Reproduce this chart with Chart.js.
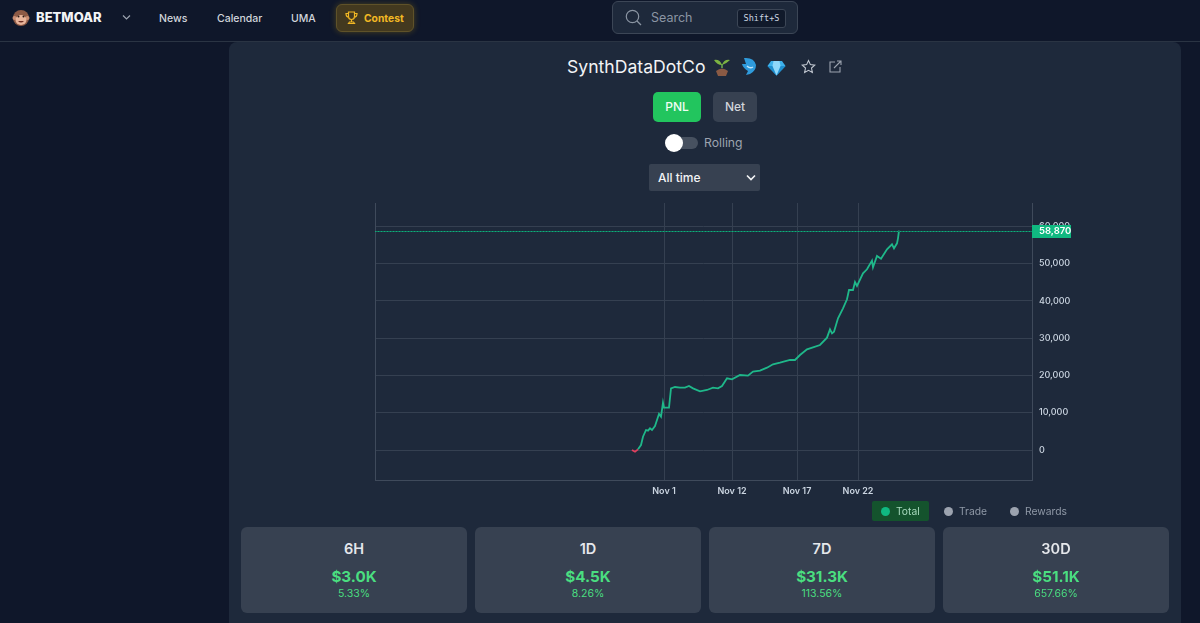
<!DOCTYPE html>
<html>
<head>
<meta charset="utf-8">
<title>BETMOAR</title>
<script src="https://cdn.jsdelivr.net/npm/chart.js@4"></script>
<style>
  * { box-sizing: border-box; }
  html, body { margin: 0; height: 100%; overflow: hidden; }
  body { background: #0f172a; font-family: Inter, "Noto Sans", sans-serif; color: #e5e7eb; width: 1200px; height: 623px; position: relative; }
  .abs { position: absolute; white-space: nowrap; }
  #nav { position: absolute; left: 0; top: 0; width: 1200px; height: 42px; background: #0f172a; border-bottom: 1px solid #2a3443; }
  .navlink { position: absolute; top: 11.5px; font-size: 10.5px; font-weight: 500; color: #d1d5db; line-height: 14px; }
  #brand { position: absolute; left: 36px; top: 9px; font-size: 13px; font-weight: 800; color: #f3f4f6; line-height: 17px; }
  #contest { position: absolute; left: 336px; top: 4px; width: 78px; height: 28px; border-radius: 6px; background: #43391f; border: 1px solid #5f5229; box-shadow: 0 0 6px rgba(234,179,8,.28); color: #f2b824; font-size: 10.3px; font-weight: 700; line-height: 26px; padding-left: 27px; }
  #search { position: absolute; left: 612px; top: 1px; width: 186px; height: 33px; border-radius: 6px; background: #1e293b; border: 1px solid #3c4656; }
  #search span.lbl { position: absolute; left: 38px; top: 8px; font-size: 12.5px; color: #8b95a3; line-height: 16px; }
  #search span.key { position: absolute; left: 124px; top: 7px; width: 49px; height: 19px; border: 1px solid #3c4656; border-radius: 3px; background: #111a2b; font: 8.5px/17px "DejaVu Sans Mono", monospace; color: #cbd5e1; text-align: center; }
  #panel { position: absolute; left: 229px; top: 42px; width: 952px; height: 600px; background: #1e293b; border-radius: 8px; }
  #title { left: 567px; top: 55px; font-size: 17.6px; line-height: 24px; color: #f3f4f6; }
  #pnl { position: absolute; left: 653px; top: 92px; width: 48px; height: 30px; border-radius: 5px; background: #22c55e; color: #f0fdf4; font-size: 12px; font-weight: 500; text-align: center; line-height: 30px; }
  #net { position: absolute; left: 713px; top: 92px; width: 44px; height: 30px; border-radius: 5px; background: #374151; color: #d1d5db; font-size: 12px; font-weight: 500; text-align: center; line-height: 30px; }
  #track { position: absolute; left: 666px; top: 137px; width: 32px; height: 12px; border-radius: 6px; background: #475160; }
  #knob { position: absolute; left: 665px; top: 134px; width: 18px; height: 18px; border-radius: 50%; background: #fff; }
  #rolling { left: 704px; top: 135px; font-size: 12.2px; color: #9ca3af; line-height: 16px; }
  #range { position: absolute; left: 649px; top: 164px; width: 111px; height: 27px; background: #374151; border-radius: 2px; color: #f3f4f6; font-size: 12px; font-weight: 500; line-height: 27px; padding-left: 9px; }
  #chartBox { position: absolute; left: 335px; top: 195px; width: 745px; height: 310px; }
  .legend { position: absolute; top: 501px; height: 20px; font-size: 10.3px; line-height: 20px; color: #8f98a6; }
  .legend i { position: absolute; left: 9px; top: 6px; width: 9px; height: 9px; border-radius: 50%; background: #9ca3af; }
  .legend span { position: absolute; left: 24px; }
  .card { position: absolute; top: 527px; width: 226px; height: 86px; background: #374151; border-radius: 6px; text-align: center; }
  .card .h { position: absolute; left: 0; right: 0; top: 13px; font-size: 14.5px; font-weight: 600; color: #e5e7eb; line-height: 18px; }
  .card .v { position: absolute; left: 0; right: 0; top: 40px; font-size: 15.2px; font-weight: 700; color: #4ade80; line-height: 20px; }
  .card .p { position: absolute; left: 0; right: 0; top: 60px; font-size: 10.5px; color: #4ade80; line-height: 14px; }
</style>
</head>
<body>
<div id="nav"></div>
<svg class="abs" style="left:12px;top:9px" width="18" height="18" viewBox="0 0 18 18"><circle cx="9" cy="9" r="8" fill="#8d5a45"/><circle cx="2.5" cy="9" r="2" fill="#c98d72"/><circle cx="15.5" cy="9" r="2" fill="#c98d72"/><ellipse cx="9" cy="11" rx="5.5" ry="5" fill="#e8b49a"/><circle cx="6.5" cy="7.5" r="1" fill="#2b1a14"/><circle cx="11.5" cy="7.5" r="1" fill="#2b1a14"/><path d="M6 12 Q9 15 12 12 Z" fill="#6b2d22"/></svg>
<div id="brand">BETMOAR</div>
<svg class="abs" style="left:122px;top:14px" width="9" height="7" viewBox="0 0 9 7"><path d="M1 1.5 L4.5 5 L8 1.5" fill="none" stroke="#9ca3af" stroke-width="1.2"/></svg>
<div class="navlink" style="left:159px">News</div>
<div class="navlink" style="left:217px">Calendar</div>
<div class="navlink" style="left:291px">UMA</div>
<div id="contest">Contest</div>
<svg class="abs" style="left:345px;top:11px" width="13" height="14" viewBox="0 0 13 14"><path d="M3.5 1 H9.5 V5.5 A3 3 0 0 1 3.5 5.5 Z M3.5 2.5 H1 Q1 6 4 6.5 M9.5 2.5 H12 Q12 6 9 6.5 M6.5 8.5 V11 M3.5 12.5 H9.5 L8.5 11 H4.5 Z" fill="none" stroke="#f2b824" stroke-width="1.2"/></svg>
<div id="search"><span class="lbl">Search</span><span class="key">Shift+S</span></div>
<svg class="abs" style="left:625px;top:9px" width="17" height="17" viewBox="0 0 17 17"><circle cx="7.5" cy="7.5" r="6.2" fill="none" stroke="#8b95a3" stroke-width="1.2"/><path d="M12 12 L16 16" stroke="#8b95a3" stroke-width="1.2"/></svg>
<div id="panel"></div>

<div id="title" class="abs">SynthDataDotCo</div>
<svg class="abs" style="left:712px;top:57px" width="20" height="20" viewBox="0 0 20 20"><path d="M10 11 V7" stroke="#6aa84f" stroke-width="1.6"/><path d="M10 8 Q5 8 2 3 Q8 2 10 8 Z M10 8 Q14 7 18 3 Q12 2 10 8 Z" fill="#7cb342"/><path d="M4 14 Q10 9 16 14 L14 19 H6 Z" fill="#8a5a44"/></svg>
<svg class="abs" style="left:741px;top:57px" width="17" height="19" viewBox="0 0 17 19"><path d="M3 1 Q13 0 15 8 Q15 14 9 17 L5 18 L7 14 Q2 11 1 7 L5 7 Z" fill="#2f9bdc"/><path d="M6 9 Q9 12 12 10" stroke="#bfe3f7" stroke-width="1.5" fill="none"/></svg>
<svg class="abs" style="left:767px;top:60px" width="19" height="16" viewBox="0 0 19 16"><path d="M4 1 H15 L18.500 6 L9.500 15.500 L0.500 6 Z" fill="#3db1ec"/><path d="M0.500 6 H18.500 L9.500 15.500 Z" fill="#1f8fd0"/><path d="M6.500 1 L5.500 6 L9.500 15.500 L13.500 6 L12.500 1 Z" fill="#8fd8fb"/></svg>
<svg class="abs" style="left:801px;top:59px" width="15" height="15" viewBox="0 0 24 24"><path d="M12 2.500 L15 9 L22 9.800 L16.800 14.500 L18.200 21.500 L12 18 L5.800 21.500 L7.200 14.500 L2 9.800 L9 9 Z" fill="none" stroke="#c3c9d2" stroke-width="1.7"/></svg>
<svg class="abs" style="left:829px;top:60px" width="13" height="13" viewBox="0 0 13 13"><path d="M6 2 H1 V12 H11 V7 M5 8 L12 1 M8 1 H12 V5" fill="none" stroke="#9ca3af" stroke-width="1.1"/></svg>
<div id="pnl">PNL</div>
<div id="net">Net</div>
<div id="track"></div>
<div id="knob"></div>
<div id="rolling" class="abs">Rolling</div>
<div id="range">All time</div>
<svg class="abs" style="left:746px;top:174px" width="10" height="8" viewBox="0 0 10 8"><path d="M1 1.500 L5 5.500 L9 1.500" fill="none" stroke="#f3f4f6" stroke-width="1.6"/></svg>

<div id="chartBox"><canvas id="pnlChart" width="745" height="310"></canvas></div>

<div class="legend" style="left:872px;width:57px;background:#14532d;border-radius:2px;color:#a7d9bd"><i style="background:#10b981"></i><span>Total</span></div>
<div class="legend" style="left:935px;width:60px"><i></i><span>Trade</span></div>
<div class="legend" style="left:1001px;width:75px"><i></i><span>Rewards</span></div>

<div id="cards"></div>

<script>
// bar position on the chart's time axis, one entry per point
var barIndex = [257, 260, 263, 266, 268, 271, 273, 275, 277, 280, 282, 284, 286, 288, 289, 294, 296, 300, 305, 310, 314, 318, 325, 332, 338, 343, 347, 352, 357, 365, 373, 378, 385, 392, 398, 405, 415, 420, 425, 432, 438, 445, 452, 455, 457, 459, 463, 468, 472, 474, 478, 480, 482, 488, 492, 497, 498, 502, 506, 512, 517, 519, 522, 523, 524];
var pnlValues = [0, -450, 180, 1340, 3580, 5370, 5190, 5820, 5370, 6440, 8050, 9660, 8950, 12700, 11360, 11360, 16550, 16910, 16730, 16730, 17180, 16550, 15750, 16110, 16730, 16550, 17180, 19240, 18970, 20130, 19960, 21030, 21300, 22100, 23000, 23440, 24160, 24160, 25500, 27030, 27560, 28190, 30160, 32390, 31320, 31770, 35350, 38030, 40450, 42950, 42950, 45100, 44030, 47430, 48500, 50830, 49040, 52080, 51360, 53870, 55210, 54140, 55480, 56820, 58870];

var xTickBars = [289, 357, 422, 483];
var xTickLabels = ['Nov 1', 'Nov 12', 'Nov 17', 'Nov 22'];
var yTickValues = [0, 10000, 20000, 30000, 40000, 50000, 60000];
var latestValue = 58870;

var cardTitles = ['6H', '1D', '7D', '30D'];
var cardAmounts = ['$3.0K', '$4.5K', '$31.3K', '$51.1K'];
var cardPercents = ['5.33%', '8.26%', '113.56%', '657.66%'];

/* CARDS */
var cardLefts = [241, 475, 709, 943];
var cardsEl = document.getElementById('cards');
cardTitles.forEach(function (t, i) {
  var c = document.createElement('div');
  c.className = 'card';
  c.style.left = cardLefts[i] + 'px';
  c.innerHTML = '<div class="h">' + t + '</div><div class="v">' + cardAmounts[i] + '</div><div class="p">' + cardPercents[i] + '</div>';
  cardsEl.appendChild(c);
});

/* GRAFICO */
var gridColor = '#354051';
var lineGreen = '#1fb88a';

// left edge of the plot and the dotted last value line with its tag
var priceLine = {
  id: 'priceLine',
  afterDatasetsDraw: function (chart) {
    var c = chart.ctx, a = chart.chartArea;
    var y = chart.scales.y.getPixelForValue(latestValue);
    c.save();
    c.strokeStyle = '#3f4a5b';
    c.beginPath();
    c.moveTo(a.left + 0.5, a.top);
    c.lineTo(a.left + 0.5, a.bottom);
    c.stroke();
    // solid dim line under the dots, otherwise they come out grey
    c.strokeStyle = '#0f7d5e';
    c.beginPath();
    c.moveTo(a.left, Math.round(y) + 0.5);
    c.lineTo(a.right, Math.round(y) + 0.5);
    c.stroke();
    c.strokeStyle = '#12a97c';
    c.setLineDash([1, 2]);
    c.beginPath();
    c.moveTo(a.left, Math.round(y) + 0.5);
    c.lineTo(a.right, Math.round(y) + 0.5);
    c.stroke();
    c.setLineDash([]);
    c.fillStyle = '#10b981';
    c.fillRect(a.right, Math.round(y) - 6, 39, 13);
    c.fillStyle = '#ffffff';
    c.font = '600 9.5px Inter';
    c.textAlign = 'left';
    c.textBaseline = 'middle';
    c.fillText(latestValue.toLocaleString('en-US'), a.right + 7, Math.round(y) + 0.5);
    c.restore();
  }
};

new Chart(document.getElementById('pnlChart').getContext('2d'), {
  type: 'line',
  data: {
    datasets: [{
      data: barIndex.map(function (b, i) { return { x: b, y: pnlValues[i] }; }),
      borderColor: lineGreen,
      borderWidth: 1.8,
      pointRadius: 0,
      tension: 0,
      segment: {
        borderColor: function (ctx) {
          return (ctx.p0.parsed.y < 0 || ctx.p1.parsed.y < 0) ? '#e0405e' : lineGreen;
        }
      }
    }]
  },
  plugins: [priceLine],
  options: {
    responsive: false,
    animation: false,
    layout: { padding: { left: 40, top: 8, right: 0, bottom: 0 } },
    plugins: { legend: { display: false }, tooltip: { enabled: false } },
    scales: {
      x: {
        type: 'linear',
        min: 0,
        max: 657,
        afterBuildTicks: function (axis) {
          axis.ticks = xTickBars.map(function (v) { return { value: v }; });
        },
        afterFit: function (axis) { axis.height = 25; },
        grid: { color: gridColor, drawTicks: false },
        border: { color: '#3f4a5b' },
        ticks: {
          autoSkip: false,
          maxRotation: 0,
          padding: 6,
          color: '#cbd5e1',
          font: { family: 'Inter', size: 9, weight: '600' },
          callback: function (v) { return xTickLabels[xTickBars.indexOf(v)]; }
        }
      },
      y: {
        position: 'right',
        min: -8050,
        max: 66300,
        afterBuildTicks: function (axis) {
          axis.ticks = yTickValues.map(function (v) { return { value: v }; });
        },
        afterFit: function (axis) {
          axis.width = 48;
          // tick padding would otherwise push the plot top down
          axis.paddingTop = 0;
          axis.paddingBottom = 0;
        },
        grid: { color: gridColor, drawTicks: false },
        border: { color: '#3f4a5b' },
        ticks: {
          padding: 7,
          crossAlign: 'near',
          color: '#cbd5e1',
          font: { family: 'Inter', size: 9, weight: '500' },
          callback: function (v) { return v.toLocaleString('en-US'); }
        }
      }
    }
  }
});
</script>
</body>
</html>
